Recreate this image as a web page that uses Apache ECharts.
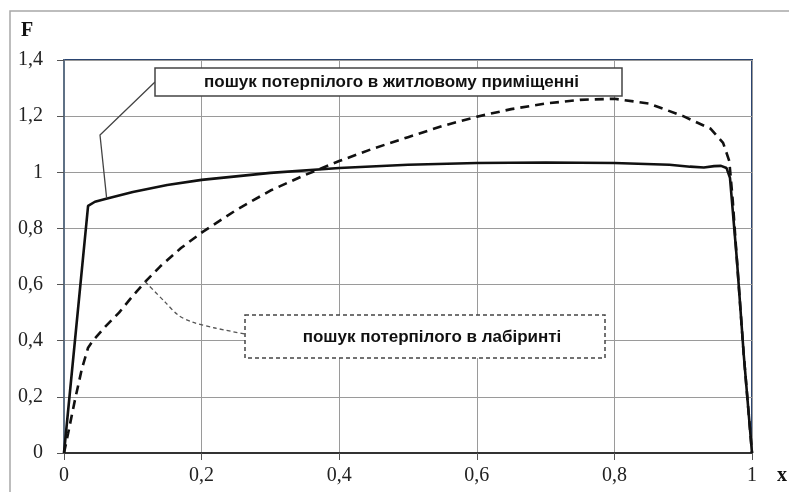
<!DOCTYPE html>
<html><head><meta charset="utf-8">
<script src="https://cdn.jsdelivr.net/npm/echarts@6/dist/echarts.min.js"></script>
<style>html,body{margin:0;padding:0;background:#fff}#c{width:789px;height:492px}</style>
</head><body><div id="c"></div><script>
// x ticks 0..1 step 0.2, y ticks 0..1.4 step 0.2
const xTickLabels = ['0','0,2','0,4','0,6','0,8','1'];
const yTickLabels = ['0','0,2','0,4','0,6','0,8','1','1,2','1,4'];
const label1 = 'пошук потерпілого в житловому приміщенні';
const label2 = 'пошук потерпілого в лабіринті';
// solid curve: residential search
const solidX = [0,0.035,0.045,0.06,0.1,0.15,0.2,0.3,0.4,0.5,0.6,0.7,0.8,0.88,0.91,0.93,0.945,0.955,0.963,0.968,0.978,0.988,1];
const solidY = [0,0.88,0.895,0.905,0.93,0.955,0.973,0.998,1.015,1.027,1.033,1.035,1.033,1.027,1.02,1.017,1.022,1.023,1.015,0.98,0.69,0.35,0];
// dashed curve: labyrinth search
const dashX = [0,0.006,0.016,0.026,0.035,0.042,0.06,0.08,0.1,0.12,0.14,0.17,0.2,0.25,0.3,0.35,0.4,0.45,0.5,0.55,0.6,0.65,0.7,0.75,0.8,0.85,0.9,0.94,0.958,0.967,0.972,0.978,0.988,1];
const dashY = [0,0.07,0.19,0.30,0.375,0.40,0.45,0.50,0.56,0.615,0.665,0.73,0.785,0.865,0.935,0.99,1.04,1.085,1.125,1.165,1.198,1.225,1.245,1.258,1.262,1.245,1.20,1.155,1.105,1.04,0.9,0.69,0.35,0];
// anchor points of the leader lines on the curves
const anchor1 = [0.062, 0.907];
const anchor2 = [0.118, 0.61];

const zip = (a,b)=>a.map((v,i)=>[v,b[i]]);
const fmt = v => String(+(+v).toFixed(1)).replace('.',',');
const chart = echarts.init(document.getElementById('c'), null, {renderer:'canvas'});
const labelFont = {fontFamily:'Liberation Serif', fontSize:20, color:'#222'};
chart.setOption({
  animation:false,
  backgroundColor:'#fff',
  grid:{left:64,right:37,top:60,bottom:39,show:true,borderColor:'#2a4470',borderWidth:2,backgroundColor:'transparent'},
  xAxis:{type:'value',min:0,max:1,interval:0.2,
    axisLine:{show:true,onZero:false,lineStyle:{color:'#333',width:2}},
    axisTick:{show:true,length:7,lineStyle:{color:'#555'}},
    axisLabel:Object.assign({margin:13,formatter:fmt},labelFont),
    splitLine:{show:true,lineStyle:{color:'#9a9a9a',width:1}}},
  yAxis:{type:'value',min:0,max:1.4,interval:0.2,
    axisLine:{show:true,onZero:false,lineStyle:{color:'#5f7186',width:2}},
    axisTick:{show:true,length:7,lineStyle:{color:'#555'}},
    axisLabel:Object.assign({margin:21,formatter:fmt},labelFont),
    splitLine:{show:true,lineStyle:{color:'#9a9a9a',width:1}}},
  series:[
    {type:'line',data:zip(dashX,dashY),showSymbol:false,symbol:'none',
     lineStyle:{color:'#111',width:2.6,type:[9,6]},z:3},
    {type:'line',data:zip(solidX,solidY),showSymbol:false,symbol:'none',
     lineStyle:{color:'#111',width:2.6},z:4}
  ]
});
const p1 = chart.convertToPixel({gridIndex:0}, anchor1);
const p2 = chart.convertToPixel({gridIndex:0}, anchor2);
const b1 = {x:155,y:68,w:467,h:28};
const b2 = {x:245,y:315,w:360,h:43};
chart.setOption({graphic:[
  {type:'rect',shape:{x:10,y:11,width:800,height:500},style:{fill:'none',stroke:'#a8a8a8',lineWidth:1.5},silent:true,z:1},
  {type:'text',style:{x:27,y:31,text:'F',font:'bold 20px "Liberation Serif"',fill:'#111',align:'center',verticalAlign:'middle'},z:10},
  {type:'text',style:{x:782,y:476,text:'x',font:'bold 20px "Liberation Serif"',fill:'#111',align:'center',verticalAlign:'middle'},z:10},
  {type:'polyline',shape:{points:[[b1.x,82],[100,135],p1]},style:{stroke:'#444',lineWidth:1.3,fill:'none'},z:10},
  {type:'rect',shape:{x:b1.x,y:b1.y,width:b1.w,height:b1.h},style:{fill:'#fff',stroke:'#444',lineWidth:1.5},z:11},
  {type:'text',style:{x:b1.x+b1.w/2+3,y:b1.y+b1.h/2,text:label1,font:'bold 17px "Liberation Sans"',fill:'#111',align:'center',verticalAlign:'middle'},z:12},
  {type:'polyline',shape:{points:[p2,[165,302],[178,315],[192,322],[215,328],[b2.x,334]],smooth:0.3},style:{stroke:'#555',lineWidth:1.3,fill:'none',lineDash:[4,3]},z:10},
  {type:'rect',shape:{x:b2.x,y:b2.y,width:b2.w,height:b2.h},style:{fill:'#fff',stroke:'#444',lineWidth:1.5,lineDash:[4,3]},z:11},
  {type:'text',style:{x:b2.x+b2.w/2+7,y:b2.y+b2.h/2+1,text:label2,font:'bold 17px "Liberation Sans"',fill:'#111',align:'center',verticalAlign:'middle'},z:12}
]});
</script></body></html>
